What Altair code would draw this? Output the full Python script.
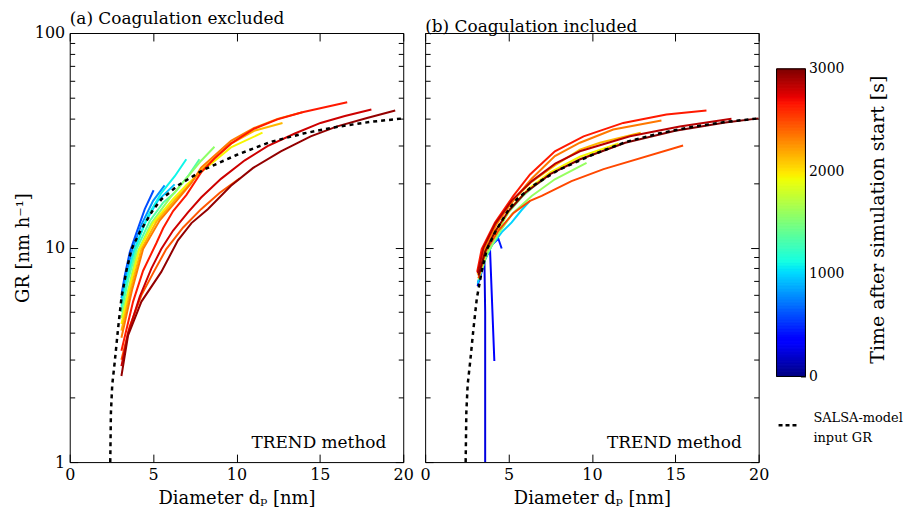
import altair as alt
import pandas as pd

FONT = "DejaVu Serif"

# ---- SALSA-model input GR (dashed) ----
input_d = [2.43, 2.47, 2.55, 2.7, 2.9, 3.1, 3.4, 3.7, 4.2, 5.0, 5.5, 6.5, 8.0, 10.0, 12.0, 14.0, 16.0, 18.0, 20.0]
input_gr = [1.0, 1.7, 2.3, 2.93, 4.2, 5.8, 7.8, 9.8, 11.8, 15.0, 16.8, 19.5, 23.0, 27.0, 31.0, 34.0, 36.5, 38.5, 40.0]

# ---- (a) Coagulation excluded: time [s], diameters [nm], GR [nm/h] ----
a_t = [600, 800, 950, 1100, 1350, 1570, 1950, 2150, 2340, 2450, 2650, 2800, 2950]
a_d = [
    [3.1, 3.3, 3.6, 4.0, 4.5, 5.03],
    [3.1, 3.4, 3.75, 4.3, 5.0, 5.69],
    [3.1, 3.45, 3.85, 4.5, 5.3, 6.29],
    [3.1, 3.5, 3.95, 4.7, 5.5, 6.3, 6.99],
    [3.1, 3.55, 4.0, 4.8, 5.6, 6.29, 7.09, 7.78],
    [3.1, 3.6, 4.0, 4.9, 6.0, 7.0, 7.88, 8.68],
    [3.1, 3.6, 4.18, 5.0, 6.19, 7.0, 7.88, 9.67, 11.56],
    [3.1, 3.7, 4.3, 5.2, 6.35, 7.2, 7.88, 9.67, 11.06, 12.76],
    [3.1, 3.75, 4.4, 5.4, 6.49, 7.3, 7.88, 9.67, 11.06, 12.46, 13.95],
    [3.1, 3.6, 4.3, 5.0, 5.79, 6.8, 7.88, 9.0, 10.2],
    [3.1, 3.8, 4.4, 5.2, 5.6, 6.2, 7.0, 7.88, 8.68, 9.67, 11.06, 12.46, 13.95, 16.64],
    [3.1, 3.5, 4.2, 4.9, 5.49, 6.2, 7.09, 7.88, 9.07, 10.5, 11.86, 13.5, 15.04, 16.5, 18.09],
    [3.1, 3.5, 4.3, 5.49, 6.49, 7.3, 8.28, 9.67, 11.0, 12.66, 14.45, 16.04, 17.83, 19.52],
]
a_gr = [
    [6.0, 7.4, 9.5, 11.7, 15.1, 18.5],
    [5.8, 7.6, 9.8, 12.8, 16.5, 19.5],
    [5.5, 7.3, 9.6, 13.0, 16.6, 19.7],
    [5.3, 7.6, 10.0, 14.1, 18.0, 21.5, 25.8],
    [5.0, 7.3, 9.8, 13.3, 16.2, 18.0, 21.5, 25.8],
    [4.7, 6.8, 9.3, 13.0, 17.0, 21.0, 25.4, 29.5],
    [4.4, 6.6, 9.84, 13.0, 16.8, 19.6, 22.5, 29.3, 34.3],
    [4.1, 6.6, 9.84, 13.2, 16.8, 19.8, 23.0, 30.5, 35.0, 38.1],
    [3.8, 6.4, 9.84, 13.4, 16.8, 20.0, 23.6, 31.4, 36.1, 39.8, 42.7],
    [3.0, 4.3, 6.0, 7.6, 9.84, 12.4, 15.1, 18.0, 21.0],
    [3.3, 5.6, 7.8, 10.5, 12.3, 14.8, 17.6, 22.4, 26.0, 30.5, 35.8, 39.6, 42.7, 47.6],
    [2.8, 4.0, 5.9, 8.0, 9.84, 12.0, 14.6, 17.1, 20.9, 25.5, 29.7, 34.0, 38.1, 41.0, 44.0],
    [2.52, 3.9, 5.6, 7.7, 10.8, 13.0, 15.1, 19.4, 23.5, 28.1, 33.0, 36.7, 40.2, 43.5],
]

# ---- (b) Coagulation included ----
b_t = [250, 330, 450, 1000, 1450, 1600, 1950, 2150, 2350, 2500, 2650, 2850, 3000]
b_d = [
    [3.15, 3.35, 3.55, 3.6, 3.6],
    [3.2, 3.5, 3.89, 4.15],
    [3.25, 3.6, 4.0, 4.39, 4.59],
    [3.15, 3.6, 3.99, 4.6, 5.19, 5.8, 6.29],
    [3.2, 3.7, 4.3, 5.0, 5.8, 6.6, 7.2],
    [3.2, 3.7, 4.4, 5.2, 6.39, 7.78, 9.68],
    [3.2, 3.7, 4.4, 5.2, 6.2, 7.5, 9.28, 11.6],
    [3.15, 3.6, 4.3, 5.2, 6.3, 7.8, 9.28, 10.48, 12.93],
    [3.2, 3.5, 4.3, 5.4, 6.4, 7.78, 9.28, 11.28, 14.17],
    [3.2, 3.6, 4.4, 5.3, 6.29, 6.99, 8.78, 10.7, 15.47],
    [3.12, 3.39, 4.19, 5.29, 6.29, 7.78, 9.5, 11.88, 14.47, 16.87],
    [3.15, 3.5, 4.2, 5.2, 6.4, 7.8, 9.28, 12.28, 15.27, 18.37],
    [3.2, 3.6, 4.2, 5.0, 6.0, 7.5, 9.3, 12.0, 15.0, 18.0, 20.0],
]
b_gr = [
    [6.6, 8.0, 9.3, 5.0, 0.3],
    [6.9, 8.5, 9.84, 2.96],
    [7.0, 8.9, 10.3, 11.0, 9.9],
    [6.8, 8.8, 10.2, 11.8, 13.1, 15.0, 16.5],
    [7.2, 9.6, 11.8, 14.6, 17.2, 19.5, 21.0],
    [7.1, 9.3, 11.6, 14.3, 17.4, 20.8, 24.8],
    [7.4, 9.9, 12.4, 15.5, 18.8, 22.4, 26.5, 30.6],
    [7.5, 10.0, 12.9, 16.4, 20.0, 24.2, 28.6, 30.8, 34.3],
    [7.5, 9.84, 13.0, 17.0, 21.0, 26.7, 30.8, 35.5, 39.1],
    [7.2, 9.5, 12.0, 14.5, 16.5, 17.4, 20.4, 23.2, 29.9],
    [7.7, 9.84, 13.1, 17.4, 21.9, 28.1, 33.0, 38.1, 41.7, 43.5],
    [7.6, 10.0, 12.9, 16.6, 20.4, 24.6, 28.1, 33.0, 36.7, 39.8],
    [7.4, 9.6, 11.9, 14.8, 18.0, 22.0, 25.8, 30.8, 35.0, 38.3, 40.0],
]

x_ticks = [0, 5, 10, 15, 20]
y_ticks = [1, 2, 3, 4, 5, 6, 7, 8, 9, 10, 20, 30, 40, 50, 60, 70, 80, 90, 100]
cb_ticks = [0, 1000, 2000, 3000]
t_max = 3000
panel_titles = ["(a) Coagulation excluded", "(b) Coagulation included"]
method_label = ["TREND method"]
legend_label = ["SALSA-model\ninput GR"]


def jet(v):
    def seg(pts):
        for (x0, y0), (x1, y1) in zip(pts, pts[1:]):
            if v <= x1:
                return y0 + (y1 - y0) * (v - x0) / (x1 - x0)
        return pts[-1][1]
    r = seg([(0, 0), (0.35, 0), (0.66, 1), (0.89, 1), (1, 0.5)])
    g = seg([(0, 0), (0.125, 0), (0.375, 1), (0.64, 1), (0.91, 0), (1, 0)])
    b = seg([(0, 0.5), (0.11, 1), (0.34, 1), (0.65, 0), (1, 0)])
    return "#%02x%02x%02x" % tuple(int(round(max(0, min(1, c)) * 255)) for c in (r, g, b))


def lines_df(ts, ds, gs):
    rows = []
    for i, (t, dl, gl) in enumerate(zip(ts, ds, gs)):
        for k, (d, g) in enumerate(zip(dl, gl)):
            rows.append(dict(id=i, k=k, t=t, d=d, gr=g, col=jet(t / t_max)))
    return pd.DataFrame(rows)


df_a = lines_df(a_t, a_d, a_gr)
df_b = lines_df(b_t, b_d, b_gr)
df_in = pd.DataFrame({"d": input_d, "gr": input_gr})

W, H = 335, 431
TICK = {"expr": "-8"}
major = "datum.value == 1 || datum.value == 10 || datum.value == 100"
ydash = {"condition": {"test": major, "value": []}, "value": [5, 30]}

xs = alt.Scale(domain=[0, 20], nice=False, zero=False)
ys = alt.Scale(type="log", domain=[1, 100], nice=False)

common_axis = dict(grid=False, domain=False, tickColor="black", tickWidth=1, labelFlush=False,
                   labelFont=FONT, labelFontSize=16, labelColor="black",
                   titleFont=FONT, titleFontSize=18, titleFontWeight="normal", titleColor="black")


def panel(df, title, first):
    x_bottom = alt.Axis(values=x_ticks, tickSize=TICK, labelPadding=12, title="Diameter dₚ [nm]",
                        titlePadding=8, **common_axis)
    if first:
        y_left = alt.Axis(values=y_ticks, tickSize=TICK, tickDash=ydash, labelPadding=13,
                          labelExpr="(" + major + ") ? datum.value : ''",
                          title="GR [nm h⁻¹]", titlePadding=2, **common_axis)
    else:
        y_left = alt.Axis(values=y_ticks, tickSize=TICK, tickDash=ydash, labels=False, title=None,
                          **common_axis)
    x_top = alt.Axis(orient="top", values=x_ticks, tickSize=TICK, labels=False, title=None, **common_axis)
    y_right = alt.Axis(orient="right", values=y_ticks, tickSize=TICK, tickDash=ydash, labels=False,
                       title=None, **common_axis)

    colored = alt.Chart(df).mark_line(strokeWidth=2, clip=True).encode(
        x=alt.X("d:Q", scale=xs, axis=x_bottom),
        y=alt.Y("gr:Q", scale=ys, axis=y_left),
        color=alt.Color("col:N", scale=None),
        detail="id:N",
        order="k:Q",
    )
    dashed = alt.Chart(df_in).mark_line(color="black", strokeWidth=2.5, strokeDash=[4, 4], clip=True).encode(
        x=alt.X("d:Q", scale=xs, axis=x_top),
        y=alt.Y("gr:Q", scale=ys, axis=y_right),
    )
    label = alt.Chart(pd.DataFrame({"txt": method_label})).mark_text(
        align="right", baseline="middle", font=FONT, fontSize=17, color="black"
    ).encode(x=alt.value(W - 17), y=alt.value(H - 19), text="txt:N")

    return alt.layer(colored, dashed, label).resolve_axis(x="independent", y="independent").properties(
        width=W, height=H,
        title=alt.TitleParams(title, anchor="start", frame="group", font=FONT, fontSize=17,
                              fontWeight="normal", color="black", offset=-3),
        view=alt.ViewBackground(stroke="black", strokeWidth=1),
    )


pa = panel(df_a, panel_titles[0], True)
pb = panel(df_b, panel_titles[1], False)

# ---- colour bar ----
step = 15
cb_df = pd.DataFrame({"t0": list(range(0, t_max, step))})
cb_df["t1"] = cb_df["t0"] + step
cb_df["col"] = [jet((v + step / 2) / t_max) for v in cb_df["t0"]]

cb_scale = alt.Scale(domain=[-835, 3350], nice=False, zero=False)
CBW = 25
bar = alt.Chart(cb_df).mark_rect(strokeWidth=1).encode(
    x=alt.value(-4), x2=alt.value(CBW),
    y=alt.Y("t0:Q", scale=cb_scale,
            axis=alt.Axis(orient="right", values=cb_ticks, format="d", tickSize={"expr": "-5"}, labelPadding=8,
                          title="Time after simulation start [s]", titleAngle=270, titleY=187,
                          titlePadding=44, grid=False, domain=False, tickColor="black",
                          labelFont=FONT, labelFontSize=14, labelColor="black",
                          titleFont=FONT, titleFontSize=19, titleFontWeight="normal", titleColor="black")),
    y2="t1:Q",
    color=alt.Color("col:N", scale=None),
    stroke=alt.Stroke("col:N", scale=None),
)
frame = alt.Chart(pd.DataFrame({"lo": [0], "hi": [t_max]})).mark_rect(
    filled=False, stroke="black", strokeWidth=1
).encode(x=alt.value(-4), x2=alt.value(CBW), y=alt.Y("lo:Q", scale=cb_scale), y2="hi:Q")
leg_line = alt.Chart(pd.DataFrame({"v": [0]})).mark_rule(
    color="black", strokeWidth=2.5, strokeDash=[4, 3]
).encode(x=alt.value(-2), x2=alt.value(19), y=alt.value(394))
leg_text = alt.Chart(pd.DataFrame({"txt": legend_label})).mark_text(
    align="left", baseline="middle", font=FONT, fontSize=13, color="black", lineBreak="\n", lineHeight=20
).encode(x=alt.value(33), y=alt.value(387), text="txt:N")

cb = alt.layer(bar, frame, leg_line, leg_text).properties(
    width=CBW, height=H, view=alt.ViewBackground(stroke="transparent")
)

chart = alt.hconcat(pa, pb, cb, spacing=22, bounds="flush").properties(
    padding={"left": 5, "top": 0, "right": 0, "bottom": 0}
).configure(font=FONT)

chart.save("out.html", embed_options={"renderer": "svg", "actions": False})
